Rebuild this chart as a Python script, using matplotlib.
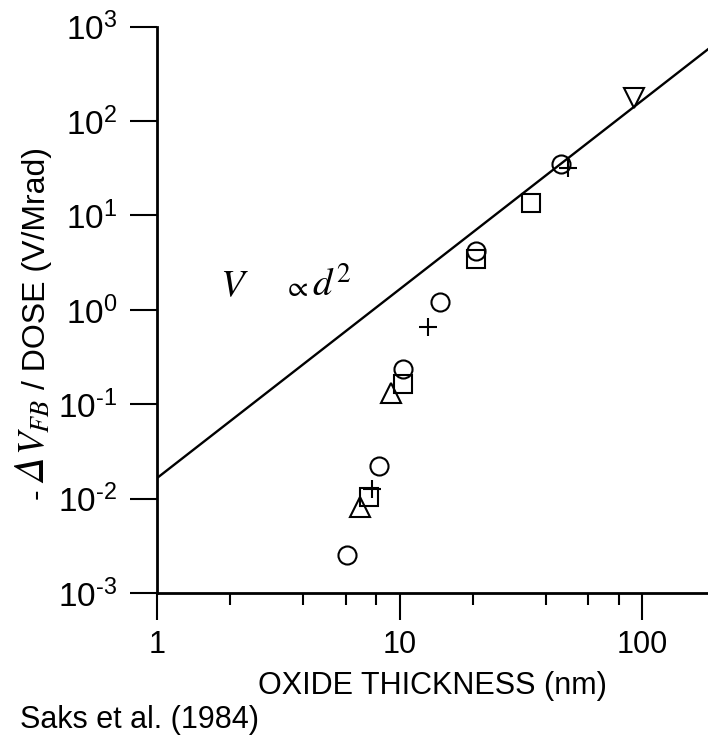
import numpy as np
import matplotlib.pyplot as plt
from matplotlib.ticker import FixedLocator, FixedFormatter, NullLocator

plt.rcParams['font.family'] = ['Liberation Sans', 'DejaVu Sans']
plt.rcParams['mathtext.fontset'] = 'custom'
plt.rcParams['mathtext.rm'] = 'Liberation Sans'
plt.rcParams['mathtext.it'] = 'Liberation Sans:italic'

# flatband shift per dose vs oxide thickness, grouped by marker type
circle_d = [6.1, 8.25, 10.3, 14.7, 20.7, 46.5]
circle_v = [2.5e-3, 0.022, 0.234, 1.2, 4.2, 35]
square_d = [7.45, 10.3, 20.7, 34.7]
square_v = [0.0105, 0.165, 3.43, 13.7]
tri_up_d = [6.88, 9.24]
tri_up_v = [8.1e-3, 0.13]
plus_d = [7.69, 13.05, 49.4]
plus_v = [0.0126, 0.66, 32]
tri_down_d = [93]
tri_down_v = [175]

# V ~ d^2 reference line
coef = 0.0165
d_line = np.array([1, 190])

W, H = 708, 736
fig = plt.figure(figsize=(W / 100, H / 100), dpi=100)
ax = fig.add_axes([157 / W, 143 / H, 551 / W, 566.3 / H])


def px(x, y):
    # pixel position (from top-left) -> figure fraction
    return x / W, 1 - y / H


ax.plot(d_line, coef * d_line ** 2, color='black', lw=1.7)

mk = dict(linestyle='none', markerfacecolor='none', markeredgecolor='black',
          markeredgewidth=1.5, color='black')
ax.plot(circle_d, circle_v, marker='o', markersize=13, **mk)
ax.plot(square_d, square_v, marker='s', markersize=13, **mk)
ax.plot(tri_up_d, tri_up_v, marker='^', markersize=14, **mk)
ax.plot(plus_d, plus_v, marker='+', markersize=13, **mk)
ax.plot(tri_down_d, tri_down_v, marker='v', markersize=14, **mk)

ax.set_xscale('log')
ax.set_yscale('log')
ax.set_xlim(1, 187)
ax.set_ylim(1e-3, 1e3)

for side in ['top', 'right']:
    ax.spines[side].set_visible(False)
for side in ['left', 'bottom']:
    ax.spines[side].set_linewidth(2)

ax.xaxis.set_major_locator(FixedLocator([1, 10, 100]))
ax.xaxis.set_major_formatter(FixedFormatter(['1', '10', '100']))
ax.xaxis.set_minor_locator(FixedLocator([2, 4, 6, 8, 20, 40, 60, 80]))

y_exp = [-3, -2, -1, 0, 1, 2, 3]
ax.yaxis.set_major_locator(FixedLocator([10.0 ** e for e in y_exp]))
ax.yaxis.set_major_formatter(FixedFormatter(
    ['10$^{%s}$' % str(e).replace('-', '\u2010') for e in y_exp]))
ax.yaxis.set_minor_locator(NullLocator())

ax.tick_params(which='major', direction='out', length=19.5, width=1.5,
               labelsize=22, pad=7)
ax.tick_params(axis='y', which='major', labelsize=24, pad=9)
ax.tick_params(which='minor', direction='out', length=8.6, width=1.5)

ax.set_xlabel('OXIDE THICKNESS (nm)', fontsize=22, va='baseline')
ax.xaxis.set_label_coords(0.5, (593 - 694) / 566.3)

# y label built from pieces: sans text, italic delta, math V_FB
ylab = dict(rotation=90, rotation_mode='anchor', ha='left', va='baseline')
fig.text(*px(45, 499), '-', fontsize=23, **ylab)
fig.text(*px(45, 483), '\u0394', fontsize=30, style='italic',
         family=['STIXGeneral', 'DejaVu Serif'], **ylab)
fig.text(*px(45, 455), r'$V_{FB}$', fontsize=27,
         math_fontfamily='stix', **ylab)
fig.text(*px(45, 389), '/ DOSE (V/Mrad)', fontsize=23, **ylab)

ax.text(1.82, 1.8, r'$V$', fontsize=28, math_fontfamily='stix',
        ha='left', va='center')
ax.text(3.31, 1.72, r'$\propto$', fontsize=21, math_fontfamily='stix',
        ha='left', va='center')
ax.text(4.35, 1.8, r'$d^2$', fontsize=28, math_fontfamily='stix',
        ha='left', va='center')

fig.text(*px(20, 728), 'Saks et al. (1984)', fontsize=22,
         ha='left', va='baseline')

fig.savefig('out.png', dpi=100)
